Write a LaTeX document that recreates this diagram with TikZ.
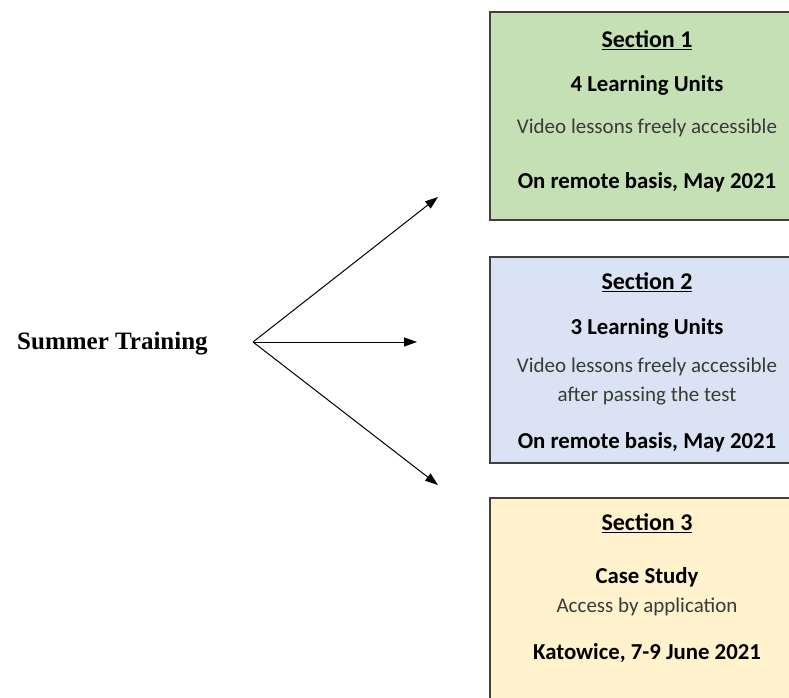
\documentclass[tikz,border=0pt]{standalone}
\usepackage{fontspec}
\setmainfont{Carlito}
\newfontfamily\serifb{Liberation Serif}
\usetikzlibrary{arrows.meta}
\definecolor{boxgreen}{HTML}{C5E0B4}
\definecolor{boxblue}{HTML}{DAE3F3}
\definecolor{boxyellow}{HTML}{FFF2CC}
\definecolor{edge}{HTML}{3F3F3F}
\definecolor{txtgrey}{HTML}{3A3A3A}
\newcommand{\ulsec}[1]{\underline{#1}}
\tikzset{
  secbox/.style={draw=edge, line width=1.3pt, rectangle, minimum width=314pt, inner sep=0pt},
  title/.style={font=\fontsize{24}{28}\selectfont\bfseries, text=black, inner sep=0pt},
  bline/.style={font=\fontsize{22.8}{27}\selectfont\bfseries, text=black, inner sep=0pt},
  rline/.style={font=\fontsize{21}{25}\selectfont, text=txtgrey, inner sep=0pt},
  arr/.style={line width=1pt, -{Triangle[length=13pt,width=9pt]}}
}
\begin{document}
\begin{tikzpicture}[x=1pt,y=-1pt]
\useasboundingbox (0,0) rectangle (789,698);
\clip (0,0) rectangle (789,698);
% boxes
\node[secbox, fill=boxgreen, minimum height=208pt] (s1) at (647,116) {};
\node[secbox, fill=boxblue, minimum height=206pt] (s2) at (647,360) {};
\node[secbox, fill=boxyellow, minimum height=224pt] (s3) at (647,610) {};
% box 1 text
\node[title] (t1) at (647,40) {\ulsec{Section 1}};
\node[bline] (u1) at (647,85) {4 Learning Units};
\node[rline] (v1) at (647,128) {Video lessons freely accessible};
\node[bline] (d1) at (647,182) {On remote basis, May 2021};
% box 2 text
\node[title] (t2) at (647,282) {\ulsec{Section 2}};
\node[bline] (u2) at (647,328) {3 Learning Units};
\node[rline, align=center, font=\fontsize{21}{29}\selectfont] (v2) at (647,382) {Video lessons freely accessible\\after passing the test};
\node[bline] (d2) at (647,442) {On remote basis, May 2021};
% box 3 text
\node[title] (t3) at (647,523) {\ulsec{Section 3}};
\node[bline] (u3) at (647,577) {Case Study};
\node[rline] (v3) at (647,607) {Access by application};
\node[bline] (d3) at (647,653) {Katowice, 7-9 June 2021};
% source
\node[anchor=west, inner sep=0pt, font=\serifb\fontsize{25}{29}\selectfont\bfseries] (st) at (17,344) {Summer Training};
\coordinate (hub) at (253,342);
\coordinate (e1) at (438,197);
\coordinate (e2) at (417,342);
\coordinate (e3) at (438,485);
\draw[arr] (hub) -- (e1);
\draw[arr] (hub) -- (e2);
\draw[arr] (hub) -- (e3);
\end{tikzpicture}
\end{document}
